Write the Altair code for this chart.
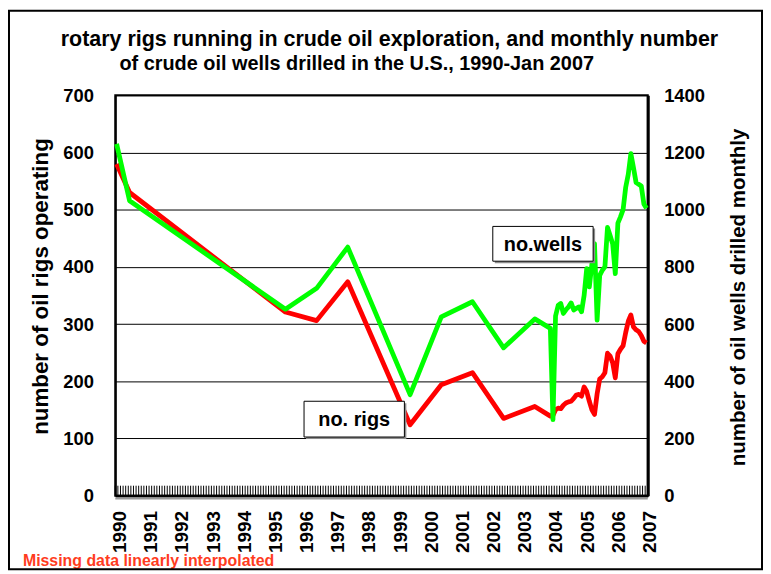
import altair as alt
import pandas as pd

# ---------------- data ----------------
TITLE_1 = "rotary rigs running in crude oil exploration, and monthly number"
TITLE_2 = "of crude oil wells drilled in the U.S., 1990-Jan 2007"
NOTE = "Missing data linearly interpolated"
LEFT_TITLE = "number of oil rigs operating"
RIGHT_TITLE = "number of oil wells drilled monthly"
RIG_LABEL = "no. rigs"
WELL_LABEL = "no.wells"

YEARS = list(range(1990, 2008))

# sparse (interpolated) part, 1990 - Dec 2003
sparse_dates = ["1990-01", "1990-06", "1995-06", "1996-06", "1997-06", "1999-06",
                "2000-06", "2001-06", "2002-06", "2003-06", "2003-12"]
rig_sparse = [580, 530, 321, 306, 374, 124, 194, 215, 135, 156, 139]
well_sparse = [1230, 1031, 652, 725, 869, 353, 625, 678, 517, 618, 585]

# monthly part, Jan 2004 - Jan 2007
monthly_dates = [f"{y}-{m:02d}" for y in (2004, 2005, 2006) for m in range(1, 13)] + ["2007-01"]
rig_monthly = [140, 150, 153, 152, 158, 162, 164, 165, 170, 176, 177, 174,
               190, 182, 165, 150, 142, 178, 204, 208, 215, 249, 244, 232,
               206, 248, 256, 262, 285, 305, 316, 295, 290, 287, 280, 270,
               267]
well_monthly = [266, 628, 665, 672, 637, 650, 660, 674, 649, 655, 660, 643,
                700, 794, 730, 811, 881, 614, 770, 788, 800, 938, 910, 880,
                776, 953, 975, 1000, 1078, 1124, 1196, 1147, 1095, 1089, 1083, 1020,
                1005]


def month_index(s):
    y, m = s.split("-")
    return (int(y) - 1990) * 12 + int(m) - 1


rig_df = pd.DataFrame({"m": [month_index(d) for d in sparse_dates + monthly_dates],
                       "rigs": rig_sparse + rig_monthly})
well_df = pd.DataFrame({"m": [month_index(d) for d in sparse_dates + monthly_dates],
                        "wells": well_sparse + well_monthly})
n_months = month_index("2007-01") + 1
tick_df = pd.DataFrame({"m": [i - 0.5 for i in range(n_months + 1)]})

# ---------------- layout ----------------
W, H = 536, 403
PAD = {"left": 108, "top": 86, "right": 116, "bottom": 75}
FONT = "Liberation Sans"

x_scale = alt.Scale(domain=[-0.5, n_months - 0.5], nice=False, zero=False)
x_axis = alt.Axis(values=[(y - 1990) * 12 for y in YEARS], labelExpr="1990 + datum.value / 12",
                  labelAngle=270, ticks=False, grid=False, domainColor="black", domainWidth=3,
                  labelPadding=15, labelOffset=3, labelFontSize=19, labelFont=FONT,
                  labelFontWeight="bold", labelColor="black", labelOverlap=False,
                  labelFlush=False, title=None)
X = alt.X("m:Q", scale=x_scale, axis=x_axis)

left_axis = alt.Axis(values=list(range(0, 701, 100)), format="d", grid=True, gridColor="black",
                     gridWidth=1, ticks=False, domainColor="black", domainWidth=2, labelPadding=22,
                     labelFontSize=18.5, labelFont=FONT, labelFontWeight="bold", labelColor="black",
                     title=LEFT_TITLE, titleFont=FONT, titleFontWeight="bold", titleFontSize=22.5,
                     titleColor="black", titleAngle=270, titleX=-75, titleY=192,
                     titleAlign="center", titleBaseline="middle")
right_axis = alt.Axis(orient="right", values=list(range(0, 1401, 200)), format="d", grid=False,
                      ticks=False, domainColor="black", domainWidth=3, labelPadding=16,
                      labelFontSize=18.5, labelFont=FONT, labelFontWeight="bold", labelColor="black",
                      title=RIGHT_TITLE, titleFont=FONT, titleFontWeight="bold", titleFontSize=20.6,
                      titleColor="black", titleAngle=270, titleX=91, titleY=203,
                      titleAlign="center", titleBaseline="middle")

month_ticks = alt.Chart(tick_df).mark_rule(color="black", strokeWidth=1).encode(
    x=X, y=alt.value(H - 10), y2=alt.value(H))

rig_line = alt.Chart(rig_df).mark_line(color="#FF0000", strokeWidth=4.8, strokeJoin="round").encode(
    x=X, y=alt.Y("rigs:Q", scale=alt.Scale(domain=[0, 700], nice=False, zero=True), axis=left_axis))

well_line = alt.Chart(well_df).mark_line(color="#00FF00", strokeWidth=4.8, strokeJoin="round").encode(
    x=X, y=alt.Y("wells:Q", scale=alt.Scale(domain=[0, 1400], nice=False, zero=True), axis=right_axis))

one = alt.Data(values=[{}])


def label_box(text, x0, x1, y0, y1):
    shadow = alt.Chart(one).mark_rect(fill="#8c8c8c").encode(
        x=alt.value(x0 + 2), x2=alt.value(x1 + 2), y=alt.value(y0 + 2), y2=alt.value(y1 + 2))
    box = alt.Chart(one).mark_rect(fill="white", stroke="black", strokeWidth=1).encode(
        x=alt.value(x0), x2=alt.value(x1), y=alt.value(y0), y2=alt.value(y1))
    txt = alt.Chart(one).mark_text(text=text, font=FONT, fontWeight="bold", fontSize=20,
                                   align="center", baseline="middle", color="black").encode(
        x=alt.value((x0 + x1) / 2), y=alt.value((y0 + y1) / 2 + 1))
    return [shadow, box, txt]


axis_shadow = alt.Chart(one).mark_rule(color="#9a9a9a", strokeWidth=2).encode(
    x=alt.value(0), x2=alt.value(W), y=alt.value(H + 3), y2=alt.value(H + 3))

frame = alt.Chart(one).mark_rect(filled=False, stroke="black", strokeWidth=2).encode(
    x=alt.value(-PAD["left"] + 1), x2=alt.value(W + PAD["right"] - 1),
    y=alt.value(-PAD["top"] + 1), y2=alt.value(H + PAD["bottom"] - 1))

title1 = alt.Chart(one).mark_text(text=TITLE_1, font=FONT, fontWeight="bold", fontSize=21.6,
                                  align="center", baseline="middle", color="black").encode(
    x=alt.value(276), y=alt.value(-56))
title2 = alt.Chart(one).mark_text(text=TITLE_2, font=FONT, fontWeight="bold", fontSize=20,
                                  align="center", baseline="middle", color="black").encode(
    x=alt.value(243), y=alt.value(-31))
note = alt.Chart(one).mark_text(text=NOTE, font=FONT, fontWeight="bold", fontSize=16,
                                align="left", baseline="middle", color="#FF3C1E").encode(
    x=alt.value(-93), y=alt.value(469))

left_group = alt.layer(month_ticks, rig_line)
right_group = alt.layer(well_line)
deco = alt.layer(axis_shadow, *label_box(WELL_LABEL, 380, 481, 132, 167),
                 *label_box(RIG_LABEL, 190, 291, 308, 344), title1, title2, note, frame)

chart = alt.layer(left_group, right_group, deco).resolve_scale(y="independent").properties(
    width=W, height=H, padding=PAD, autosize=alt.AutoSizeParams(type="none"),
    background="white"
).configure_view(stroke="black", strokeWidth=2)

chart.save("out.html", embed_options={"renderer": "svg", "actions": False})
